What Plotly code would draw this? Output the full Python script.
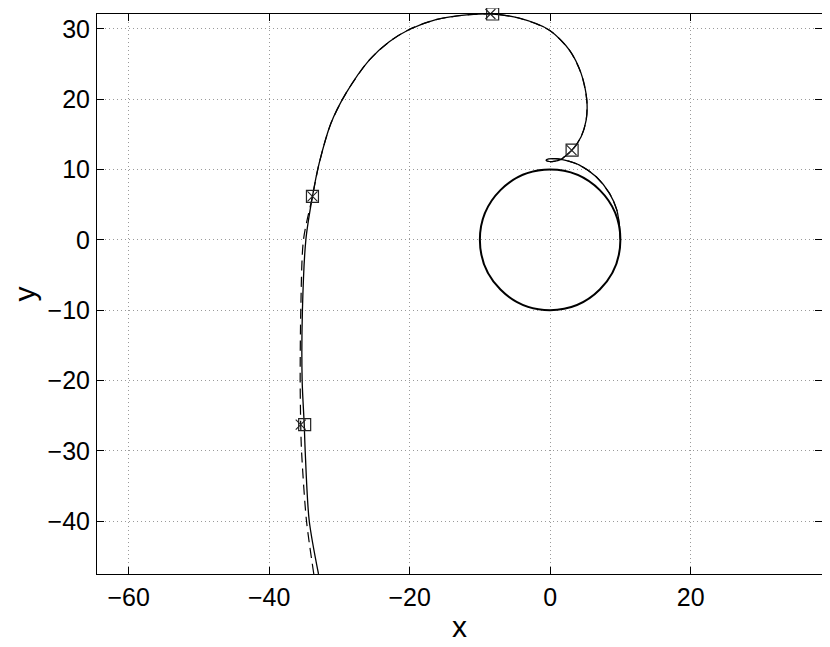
import plotly.graph_objects as go

# Solid trajectory
solid_x = [-32.97, -34.3, -34.87, -35.0, -35.3, -35.26, -34.77, -33.83, -32.88, -31.21,
           -29.07, -25.75, -22.9, -20.05, -16.25, -11.5, -8.18, -4.37, -0.1, 2.75,
           4.41, 5.22, 5.13, 4.41, 3.13, 2.04, 1.57, 0.5, -0.3, -0.57, -0.2, 0.7,
           1.57, 2.75, 4.18, 6.56, 8.45, 9.5, 9.88, 10.0]
solid_y = [-47.5, -39.86, -29.9, -26.28, -19.95, -10.0, 0.0, 6.17, 10.86, 16.55,
           20.82, 25.55, 28.15, 29.9, 31.3, 32.0, 32.1, 31.5, 29.8, 26.97,
           23.66, 19.86, 17.0, 14.65, 12.75, 11.8, 11.43, 11.15, 11.17, 11.33, 11.5, 11.55,
           11.43, 11.15, 10.62, 8.96, 6.6, 4.22, 1.85, 0.0]

# Dashed trajectory (deviates only at the lower left)
dashed_x = [-33.64, -34.69, -35.39, -35.5, -35.58, -35.49, -35.11, -33.83, -32.88, -31.21,
            -29.07, -25.75, -22.9, -20.05, -16.25, -11.5, -8.18, -4.37, -0.1, 2.75,
            4.41, 5.22, 5.13, 4.41, 3.13, 2.04, 1.57, 0.5, -0.3, -0.57, -0.2, 0.7,
            1.57, 2.75, 4.18, 6.56, 8.45, 9.5, 9.88, 10.0]
dashed_y = [-47.5, -39.86, -29.9, -26.28, -19.95, -10.0, 0.0, 6.17, 10.86, 16.55,
            20.82, 25.55, 28.15, 29.9, 31.3, 32.0, 32.1, 31.5, 29.8, 26.97,
            23.66, 19.86, 17.0, 14.65, 12.75, 11.8, 11.43, 11.15, 11.17, 11.33, 11.5, 11.55,
            11.43, 11.15, 10.62, 8.96, 6.6, 4.22, 1.85, 0.0]

# Square markers (solid) and x markers (dashed)
square_x = [-8.18, 3.13, -33.83, -34.94]
square_y = [32.1, 12.75, 6.17, -26.28]
cross_x = [-8.5, 3.05, -33.83, -35.5]
cross_y = [32.1, 12.75, 6.17, -26.28]

# Final circular orbit
circle_cx, circle_cy, circle_r = 0.0, 0.0, 10.0

x_ticks = [-60, -40, -20, 0, 20]
y_ticks = [-40, -30, -20, -10, 0, 10, 20, 30]
x_range = [-64.5, 38.7]
y_range = [-47.5, 32.1]

FONT = "Liberation Sans, Arial, Helvetica, sans-serif"

fig = go.Figure()
fig.add_trace(go.Scatter(x=dashed_x, y=dashed_y, mode="lines",
                         line=dict(color="black", width=1.2, dash="10px,6px",
                                   shape="spline", smoothing=0.8),
                         showlegend=False))
fig.add_trace(go.Scatter(x=solid_x, y=solid_y, mode="lines",
                         line=dict(color="black", width=1.3, shape="spline", smoothing=0.8),
                         showlegend=False))
fig.add_trace(go.Scatter(x=square_x, y=square_y, mode="markers",
                         marker=dict(symbol="square-open", size=12, color="#222",
                                     line=dict(width=1.2, color="#222")),
                         showlegend=False, cliponaxis=False))
fig.add_trace(go.Scatter(x=cross_x, y=cross_y, mode="markers",
                         marker=dict(symbol="x-thin-open", size=10, color="#222",
                                     line=dict(width=1.1, color="#222")),
                         showlegend=False, cliponaxis=False))

fig.add_shape(type="circle", xref="x", yref="y",
              x0=circle_cx - circle_r, x1=circle_cx + circle_r,
              y0=circle_cy - circle_r, y1=circle_cy + circle_r,
              line=dict(color="black", width=2))

axis_common = dict(
    showline=True, linecolor="black", linewidth=1, mirror="allticks",
    ticks="inside", ticklen=7, tickcolor="black", tickwidth=1,
    showgrid=True, gridcolor="#9a9a9a", gridwidth=1, griddash="1px,3px",
    zeroline=False, automargin=False,
    tickfont=dict(family=FONT, size=25, color="black"),
)

fig.update_xaxes(range=x_range, tickvals=x_ticks, ticklabelstandoff=1, **axis_common,
                 title=dict(text="x", font=dict(family=FONT, size=30, color="black"),
                            standoff=5))
fig.update_yaxes(range=y_range, tickvals=y_ticks, ticklabelstandoff=1, **axis_common,
                 title=dict(text="y", font=dict(family=FONT, size=30, color="black"),
                            standoff=5))

# page body adds an 8px offset, so the figure is 8px smaller and margins shifted
fig.update_layout(
    width=822, height=639,
    margin=dict(l=89, r=8, t=6, b=73),
    plot_bgcolor="white", paper_bgcolor="white",
)

fig.write_html("out.html")
